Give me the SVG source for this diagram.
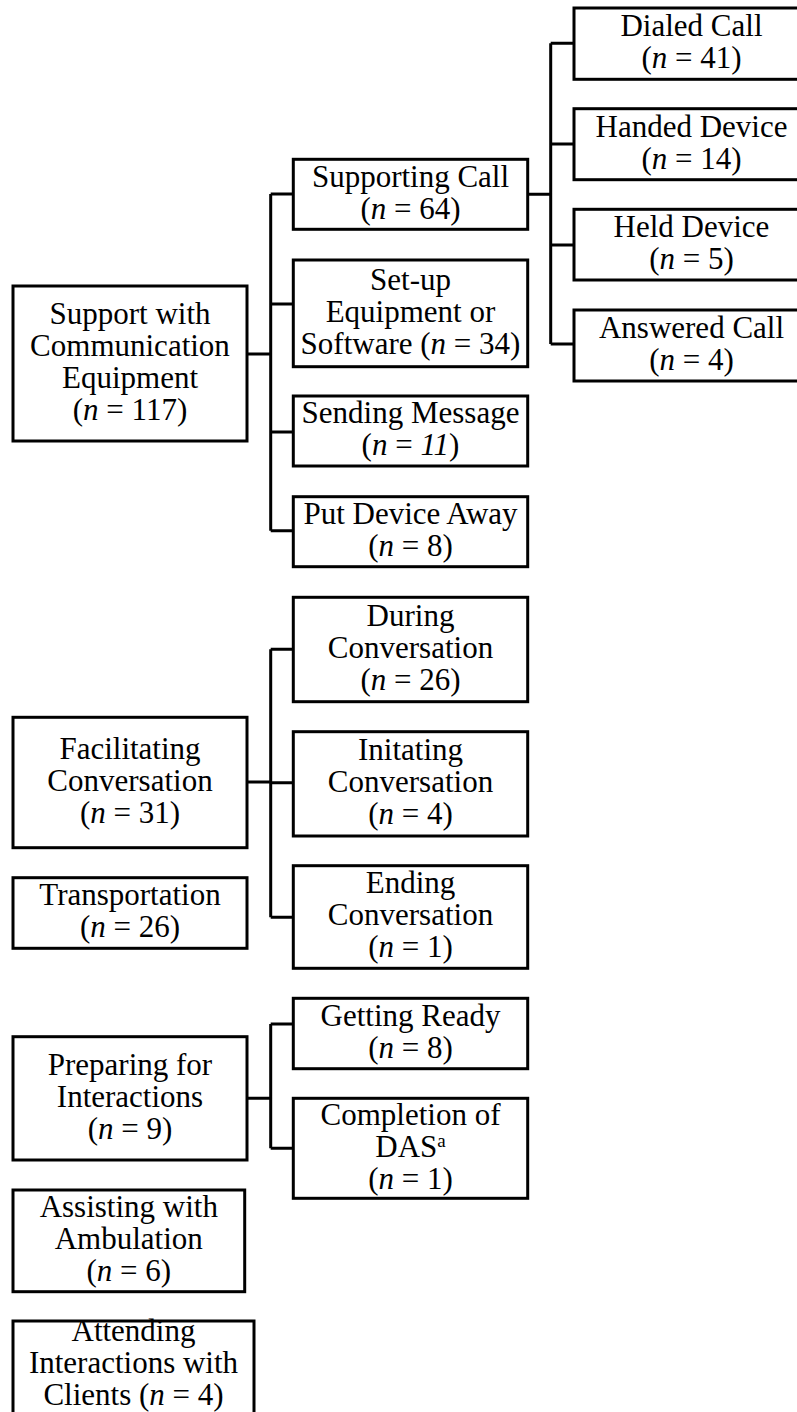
<svg xmlns="http://www.w3.org/2000/svg" width="797" height="1412" viewBox="0 0 797 1412">
  <style>
    .box { fill: #ffffff; stroke: #000000; stroke-width: 3; }
    .lbl { font-family: "Liberation Serif", "Times New Roman", serif; font-size: 31px; fill: #000000; text-anchor: middle; }
    .it { font-style: italic; }
    .sup { font-size: 19px; }
    .conn { fill: none; stroke: #000000; stroke-width: 3; stroke-linejoin: miter; stroke-linecap: butt; }
  </style>
  <rect x="0" y="0" width="797" height="1412" fill="#ffffff"/>

  <!-- connectors -->
  <g id="connectors" class="conn">
    <!-- Support with Communication Equipment -> children -->
    <path d="M247 354 H270.7 M270.7 194 V530.7 M270.7 194 H293.3 M270.7 304 H293.3 M270.7 432 H293.3 M270.7 530.7 H293.3"/>
    <!-- Supporting Call -> children -->
    <path d="M527.7 194.3 H550.7 M550.7 43.3 V344 M550.7 43.3 H574 M550.7 144 H574 M550.7 245 H574 M550.7 344 H574"/>
    <!-- Facilitating Conversation -> children -->
    <path d="M247 782 H270.7 M270.7 649.3 V917.3 M270.7 649.3 H293.3 M270.7 782.7 H293.3 M270.7 917.3 H293.3"/>
    <!-- Preparing for Interactions -> children -->
    <path d="M247 1098.3 H270.7 M270.7 1024 V1148.3 M270.7 1024 H293.3 M270.7 1148.3 H293.3"/>
  </g>

  <!-- level 1 -->
  <g id="support-comm">
    <rect class="box" x="13" y="286" width="234" height="155"/>
    <text class="lbl"><tspan x="130" y="324">Support with</tspan><tspan x="130" y="356">Communication</tspan><tspan x="130" y="388">Equipment</tspan><tspan x="130" y="420">(<tspan class="it">n</tspan> = 117)</tspan></text>
  </g>
  <g id="facilitating">
    <rect class="box" x="13" y="717.3" width="234" height="130.4"/>
    <text class="lbl"><tspan x="130" y="759">Facilitating</tspan><tspan x="130" y="791">Conversation</tspan><tspan x="130" y="823">(<tspan class="it">n</tspan> = 31)</tspan></text>
  </g>
  <g id="transportation">
    <rect class="box" x="13" y="877.7" width="234" height="70.6"/>
    <text class="lbl"><tspan x="130" y="905.4">Transportation</tspan><tspan x="130" y="937.4">(<tspan class="it">n</tspan> = 26)</tspan></text>
  </g>
  <g id="preparing">
    <rect class="box" x="13" y="1036.7" width="234" height="123.3"/>
    <text class="lbl"><tspan x="130" y="1074.7">Preparing for</tspan><tspan x="130" y="1106.7">Interactions</tspan><tspan x="130" y="1138.7">(<tspan class="it">n</tspan> = 9)</tspan></text>
  </g>
  <g id="assisting">
    <rect class="box" x="13" y="1190" width="231.7" height="101.7"/>
    <text class="lbl"><tspan x="128.8" y="1217.4">Assisting with</tspan><tspan x="128.8" y="1249.4">Ambulation</tspan><tspan x="128.8" y="1281.4">(<tspan class="it">n</tspan> = 6)</tspan></text>
  </g>
  <g id="attending">
    <rect class="box" x="13" y="1321" width="241" height="120"/>
    <text class="lbl"><tspan x="133.5" y="1340.5">Attending</tspan><tspan x="133.5" y="1372.5">Interactions with</tspan><tspan x="133.5" y="1404.5">Clients (<tspan class="it">n</tspan> = 4)</tspan></text>
  </g>

  <!-- level 2 -->
  <g id="supporting-call">
    <rect class="box" x="293.3" y="159.3" width="234.4" height="70"/>
    <text class="lbl"><tspan x="410.5" y="186.7">Supporting Call</tspan><tspan x="410.5" y="218.7">(<tspan class="it">n</tspan> = 64)</tspan></text>
  </g>
  <g id="setup">
    <rect class="box" x="293.3" y="260" width="234.4" height="106.7"/>
    <text class="lbl"><tspan x="410.5" y="289.7">Set-up</tspan><tspan x="410.5" y="321.7">Equipment or</tspan><tspan x="410.5" y="353.7">Software (<tspan class="it">n</tspan> = 34)</tspan></text>
  </g>
  <g id="sending-message">
    <rect class="box" x="293.3" y="396" width="234.4" height="70"/>
    <text class="lbl"><tspan x="410.5" y="423.4">Sending Message</tspan><tspan x="410.5" y="455.4">(<tspan class="it">n</tspan> = <tspan class="it">11</tspan>)</tspan></text>
  </g>
  <g id="put-away">
    <rect class="box" x="293.3" y="496.7" width="234.4" height="70"/>
    <text class="lbl"><tspan x="410.5" y="524">Put Device Away</tspan><tspan x="410.5" y="556">(<tspan class="it">n</tspan> = 8)</tspan></text>
  </g>
  <g id="during">
    <rect class="box" x="293.3" y="597.3" width="234.4" height="104.4"/>
    <text class="lbl"><tspan x="410.5" y="625.9">During</tspan><tspan x="410.5" y="657.9">Conversation</tspan><tspan x="410.5" y="689.9">(<tspan class="it">n</tspan> = 26)</tspan></text>
  </g>
  <g id="initating">
    <rect class="box" x="293.3" y="731.7" width="234.4" height="104.3"/>
    <text class="lbl"><tspan x="410.5" y="760.2">Initating</tspan><tspan x="410.5" y="792.2">Conversation</tspan><tspan x="410.5" y="824.2">(<tspan class="it">n</tspan> = 4)</tspan></text>
  </g>
  <g id="ending">
    <rect class="box" x="293.3" y="865.7" width="234.4" height="102.6"/>
    <text class="lbl"><tspan x="410.5" y="893.4">Ending</tspan><tspan x="410.5" y="925.4">Conversation</tspan><tspan x="410.5" y="957.4">(<tspan class="it">n</tspan> = 1)</tspan></text>
  </g>
  <g id="getting-ready">
    <rect class="box" x="293.3" y="998.3" width="234.4" height="70.4"/>
    <text class="lbl"><tspan x="410.5" y="1025.9">Getting Ready</tspan><tspan x="410.5" y="1057.9">(<tspan class="it">n</tspan> = 8)</tspan></text>
  </g>
  <g id="completion">
    <rect class="box" x="293.3" y="1098.3" width="234.4" height="100"/>
    <text class="lbl"><tspan x="410.5" y="1124.7">Completion of</tspan><tspan x="410.5" y="1156.7">DAS<tspan class="sup" dy="-10">a</tspan></tspan><tspan x="410.5" y="1188.7">(<tspan class="it">n</tspan> = 1)</tspan></text>
  </g>

  <!-- level 3 -->
  <g id="dialed">
    <rect class="box" x="574" y="8" width="235" height="71.3"/>
    <text class="lbl"><tspan x="691.5" y="36">Dialed Call</tspan><tspan x="691.5" y="68">(<tspan class="it">n</tspan> = 41)</tspan></text>
  </g>
  <g id="handed">
    <rect class="box" x="574" y="108.7" width="235" height="71"/>
    <text class="lbl"><tspan x="691.5" y="136.6">Handed Device</tspan><tspan x="691.5" y="168.6">(<tspan class="it">n</tspan> = 14)</tspan></text>
  </g>
  <g id="held">
    <rect class="box" x="574" y="209.3" width="235" height="70.7"/>
    <text class="lbl"><tspan x="691.5" y="237">Held Device</tspan><tspan x="691.5" y="269">(<tspan class="it">n</tspan> = 5)</tspan></text>
  </g>
  <g id="answered">
    <rect class="box" x="574" y="310" width="235" height="71"/>
    <text class="lbl"><tspan x="691.5" y="338">Answered Call</tspan><tspan x="691.5" y="370">(<tspan class="it">n</tspan> = 4)</tspan></text>
  </g>
</svg>
